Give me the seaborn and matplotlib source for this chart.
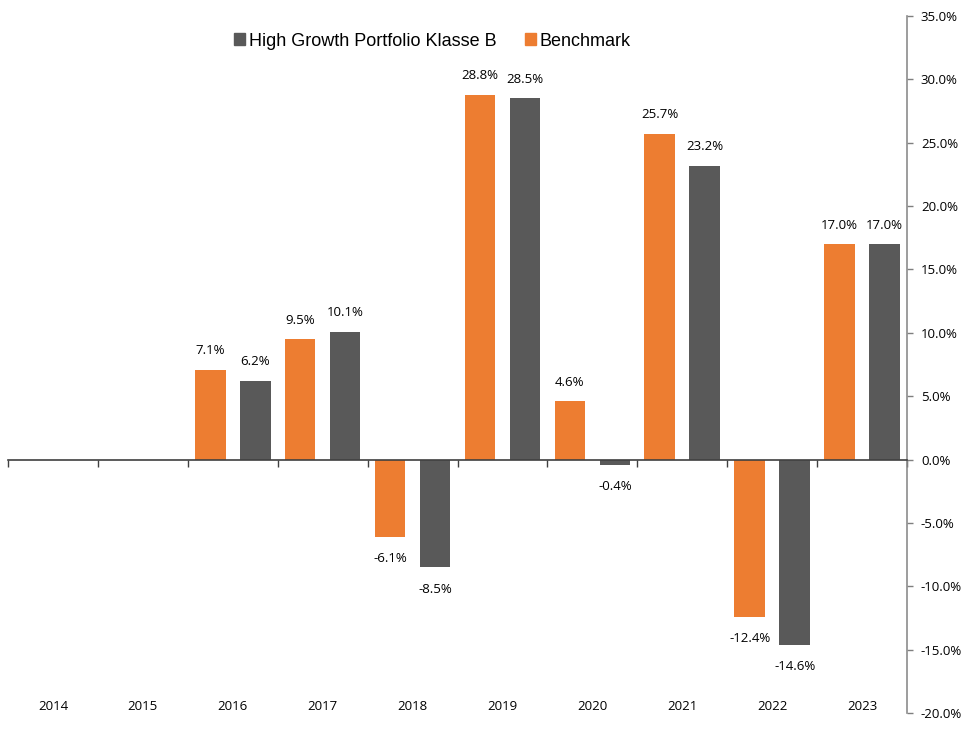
import seaborn as sns
import matplotlib.pyplot as plt
import matplotlib.transforms as mtransforms
from matplotlib.patches import Patch
import numpy as np
import pandas as pd

years = ['2014', '2015', '2016', '2017', '2018', '2019', '2020', '2021', '2022', '2023']
benchmark = [np.nan, np.nan, 7.1, 9.5, -6.1, 28.8, 4.6, 25.7, -12.4, 17.0]
portfolio = [np.nan, np.nan, 6.2, 10.1, -8.5, 28.5, -0.4, 23.2, -14.6, 17.0]
series_names = ['Benchmark', 'High Growth Portfolio Klasse B']
colors = {'Benchmark': '#ED7D31', 'High Growth Portfolio Klasse B': '#595959'}

df = pd.DataFrame({
    'year': years * 2,
    'value': benchmark + portfolio,
    'series': [series_names[0]] * len(years) + [series_names[1]] * len(years),
})

sns.set_style('white')
plt.rcParams['font.family'] = ['Liberation Sans', 'DejaVu Sans']
plt.rcParams['text.color'] = 'black'
label_font = ['Open Sans', 'DejaVu Sans']

fig = plt.figure(figsize=(9.71, 7.47), dpi=100)
ax = fig.add_axes([8 / 971, 1 - 713 / 747, 899 / 971, 697 / 747])

sns.barplot(data=df, x='year', y='value', hue='series', hue_order=series_names,
            palette=colors, width=1.0, gap=0.32, saturation=1, linewidth=0,
            ax=ax, legend=False)

ax.set_xlim(-0.5, len(years) - 0.5)
ax.set_ylim(-20, 35)
ax.set_xlabel('')
ax.set_ylabel('')

# y axis on the right
ax.yaxis.tick_right()
ax.set_yticks(np.arange(-20, 36, 5))
ax.set_yticklabels([f'{v:.1f}%' for v in np.arange(-20, 36, 5)],
                   fontsize=9.5, family=label_font, color='black')
ax.tick_params(axis='y', direction='out', length=4, width=1, color='#7f7f7f', pad=6)
for side in ['left', 'top']:
    ax.spines[side].set_visible(False)
ax.spines['right'].set_color('#8c8c8c')
ax.spines['right'].set_linewidth(1.2)

# category axis on the zero line, ticks between categories
ax.spines['bottom'].set_position(('data', 0))
ax.spines['bottom'].set_color('#404040')
ax.spines['bottom'].set_linewidth(1.2)
ax.set_xticks(np.arange(-0.5, len(years), 1.0))
ax.set_xticklabels([])
ax.tick_params(axis='x', direction='out', length=5, width=1, color='#404040', bottom=True)
trans = mtransforms.blended_transform_factory(ax.transData, ax.transAxes)
for i, yr in enumerate(years):
    ax.text(i, 0.01, yr, transform=trans, ha='center', va='center', fontsize=9.5,
            family=label_font, color='black')

# data labels
for container in ax.containers:
    for bar in container:
        v = bar.get_height()
        if np.isnan(v):
            continue
        x = bar.get_x() + bar.get_width() / 2
        if v >= 0:
            ax.annotate(f'{v:.1f}%', (x, v), xytext=(0, 9), textcoords='offset points',
                        ha='center', va='bottom', fontsize=9.5, family=label_font, color='black')
        else:
            ax.annotate(f'{v:.1f}%', (x, v), xytext=(0, -11), textcoords='offset points',
                        ha='center', va='top', fontsize=9.5, family=label_font, color='black')

handles = [Patch(color=colors[series_names[1]], label=series_names[1]),
           Patch(color=colors[series_names[0]], label=series_names[0])]
ax.legend(handles=handles, loc='center', bbox_to_anchor=(0.472, 0.964), ncol=2,
          frameon=False, fontsize=13, handlelength=0.6, handleheight=0.6,
          handletextpad=0.2, columnspacing=1.6, labelcolor='black')

fig.savefig('out.png', dpi=100)
